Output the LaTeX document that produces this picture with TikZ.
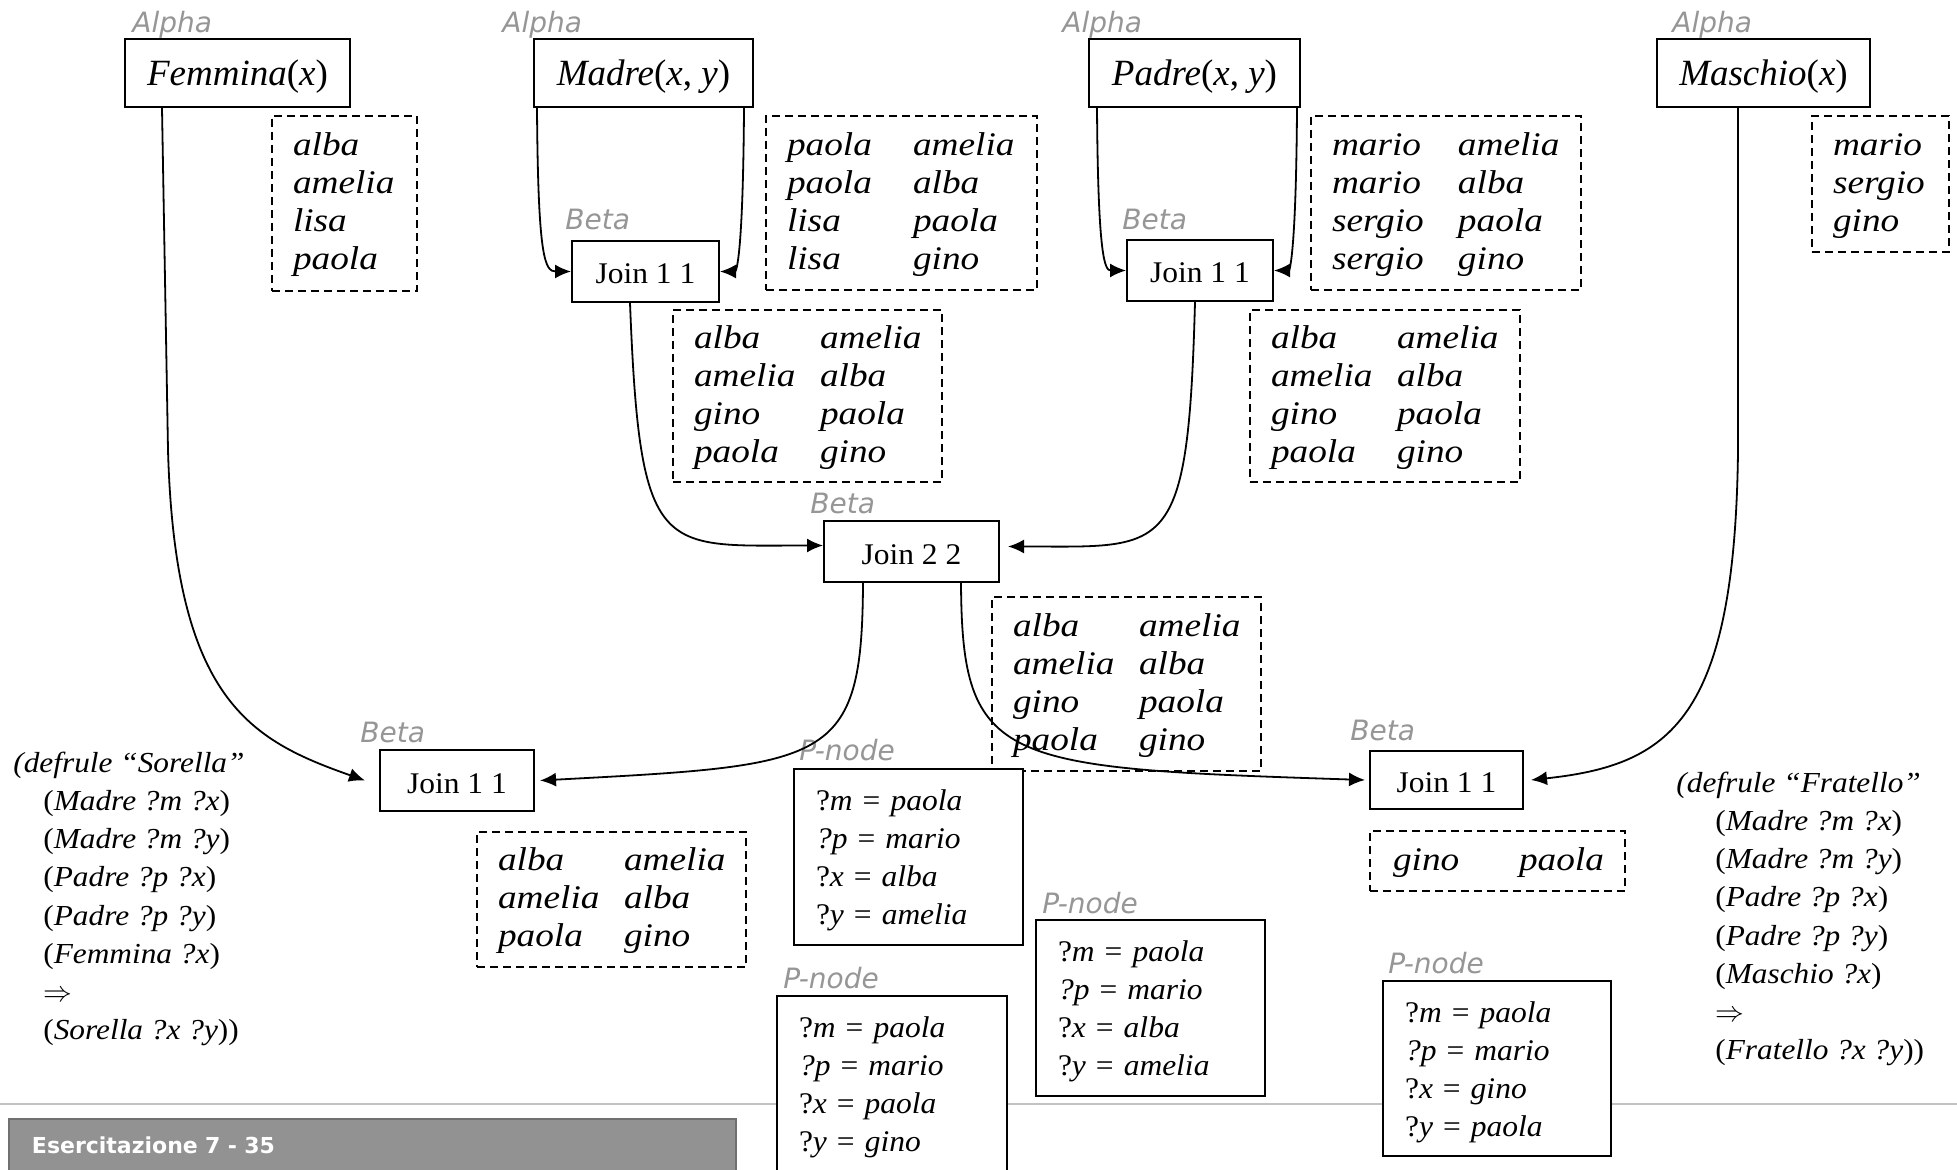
\documentclass[tikz,border=0pt]{standalone}
\usepackage{fontspec}
\setmainfont{Liberation Serif}
\newfontfamily\dfont[FakeStretch=1.13]{Liberation Serif}
\newfontfamily\pfont[FakeStretch=1.05]{Liberation Serif}
\newfontfamily\rfont[FakeStretch=1.08]{Liberation Serif}
\newfontfamily\jfont[FakeStretch=1.05]{Liberation Serif}
\newfontfamily\lfont{DejaVu Sans}
\usetikzlibrary{arrows.meta}
\definecolor{lblgray}{RGB}{150,150,150}
\definecolor{footfill}{RGB}{146,146,146}
\definecolor{footborder}{RGB}{112,112,112}
\definecolor{footline}{RGB}{195,195,195}
\newcommand{\rw}[2]{\strut\makebox[63pt][l]{#1}#2}
\newcommand{\rwf}[2]{\rule{0pt}{15pt}\rw{#1}{#2}}
\newcommand{\dfirst}{\rule{0pt}{15pt}\strut}
\newcommand{\pv}[2]{\strut?\textit{#1} = \textit{#2}}
\newcommand{\pfirst}{\rule{0pt}{16.3pt}}
\tikzset{
  alphabox/.style={draw, line width=1pt, fill=white, inner sep=0pt, minimum height=34pt,
    text height=17pt, text depth=4pt, font=\fontsize{18.5}{20}\selectfont},
  joinbox/.style={draw, line width=1pt, fill=white, inner sep=0pt, minimum height=30.5pt,
    text height=12.5pt, text depth=0pt, font=\jfont\fontsize{15}{18}\selectfont},
  dbox/.style={draw, dash pattern=on 4pt off 2.5pt, line width=0.8pt, inner xsep=10.5pt, inner ysep=0pt,
    align=left, font=\dfont\itshape\fontsize{16.5}{19}\selectfont},
  pbox/.style={draw, line width=1pt, fill=white, inner xsep=11pt, inner ysep=0pt, align=left,
    minimum height=88pt, font=\pfont\fontsize{15}{19}\selectfont},
  lbl/.style={text=lblgray, font=\lfont\itshape\fontsize{14}{15}\selectfont, inner sep=0pt, anchor=base west},
  rule/.style={inner sep=0pt, anchor=west, align=left, font=\rfont\fontsize{14.5}{19.1}\selectfont},
  conn/.style={line width=0.9pt, -{Latex[length=8pt,width=7pt]}},
  footbox/.style={draw=footborder, fill=footfill, line width=1pt, inner xsep=11.5pt, inner ysep=0pt,
    align=left, text=white, font=\lfont\bfseries\fontsize{11}{13}\selectfont}
}
\begin{document}
\begin{tikzpicture}[x=0.5pt,y=-0.5pt]
\useasboundingbox (0,0) rectangle (1957,1170);
\clip (0,0) rectangle (1957,1170);

% footer line
\draw[footline, line width=1pt] (0,1104) -- (1957,1104);

% Alpha nodes
\node[alphabox, minimum width=112.5pt] (fem) at (237.5,73) {\textit{Femmina}(\textit{x})};
\node[alphabox, minimum width=109.5pt] (madre) at (643.5,73) {\textit{Madre}(\textit{x}, \textit{y})};
\node[alphabox, minimum width=105.5pt] (padre) at (1194.5,73) {\textit{Padre}(\textit{x}, \textit{y})};
\node[alphabox, minimum width=106.5pt] (masc) at (1763.5,73) {\textit{Maschio}(\textit{x})};
\node[lbl] (lfem) at (132,33) {Alpha};
\node[lbl] (lmad) at (502,33) {Alpha};
\node[lbl] (lpad) at (1062,33) {Alpha};
\node[lbl] (lmas) at (1672,33) {Alpha};

% Alpha memories
\node[dbox, text width=51.5pt, minimum height=87.5pt] (dfem) at (344.5,203.5)
  {\dfirst alba\\\strut amelia\\\strut lisa\\\strut paola};
\node[dbox, text width=114.5pt, minimum height=87pt] (dmad) at (901.5,203)
  {\rwf{paola}{amelia}\\\rw{paola}{alba}\\\rw{lisa}{paola}\\\rw{lisa}{gino}};
\node[dbox, text width=114pt, minimum height=87pt] (dpad) at (1446,203)
  {\rwf{mario}{amelia}\\\rw{mario}{alba}\\\rw{sergio}{paola}\\\rw{sergio}{gino}};
\node[dbox, text width=47.5pt, minimum height=68pt] (dmas) at (1880.5,184)
  {\dfirst mario\\\strut sergio\\\strut gino};

% first joins
\node[joinbox, minimum width=73.5pt] (jm) at (645.5,271.5) {Join 1 1};
\node[joinbox, minimum width=73pt] (jp) at (1200,270.5) {Join 1 1};
\node[lbl] (bjm) at (565,230) {Beta};
\node[lbl] (bjp) at (1122,230) {Beta};

\node[dbox, text width=113.5pt, minimum height=86pt] (djm) at (807.5,396)
  {\rwf{alba}{amelia}\\\rw{amelia}{alba}\\\rw{gino}{paola}\\\rw{paola}{gino}};
\node[dbox, text width=114pt, minimum height=86pt] (djp) at (1385,396)
  {\rwf{alba}{amelia}\\\rw{amelia}{alba}\\\rw{gino}{paola}\\\rw{paola}{gino}};

% join 2 2
\node[joinbox, minimum width=87.5pt] (j22) at (911.5,551.5) {Join 2 2};
\node[lbl] (bj22) at (810,513) {Beta};
\node[dbox, text width=113.5pt, minimum height=87pt] (dj22) at (1126.5,684)
  {\rwf{alba}{amelia}\\\rw{amelia}{alba}\\\rw{gino}{paola}\\\rw{paola}{gino}};

% final joins
\node[joinbox, minimum width=77pt] (jsor) at (457,780.5) {Join 1 1};
\node[joinbox, minimum width=76.5pt, minimum height=29pt] (jfra) at (1446.5,780) {Join 1 1};
\node[lbl] (bjs) at (360,742) {Beta};
\node[lbl] (bjf) at (1350,740) {Beta};
\node[dbox, text width=113.5pt, minimum height=67.5pt] (dsor) at (611.5,899.5)
  {\rwf{alba}{amelia}\\\rw{amelia}{alba}\\\rw{paola}{gino}};
\node[dbox, inner xsep=11.5pt, text width=104.5pt, minimum height=30pt] (dfra) at (1497.5,861)
  {\rwf{gino}{paola}};

% P-nodes
\node[pbox, text width=92.5pt] (p1) at (908.5,857)
  {\pfirst\pv{m}{paola}\\\strut\textit{?p} = \textit{mario}\\\pv{x}{alba}\\\pv{y}{amelia}};
\node[pbox, text width=93pt] (p2) at (892,1084)
  {\pfirst\pv{m}{paola}\\\strut\textit{?p} = \textit{mario}\\\pv{x}{paola}\\\pv{y}{gino}};
\node[pbox, text width=92.5pt] (p3) at (1150.5,1008)
  {\pfirst\pv{m}{paola}\\\strut\textit{?p} = \textit{mario}\\\pv{x}{alba}\\\pv{y}{amelia}};
\node[pbox, text width=92pt, minimum height=87.5pt] (p4) at (1497,1068.5)
  {\pfirst\pv{m}{paola}\\\strut\textit{?p} = \textit{mario}\\\pv{x}{gino}\\\pv{y}{paola}};
\node[lbl] (lp1) at (799,760) {P-node};
\node[lbl] (lp2) at (783,988) {P-node};
\node[lbl] (lp3) at (1042,913) {P-node};
\node[lbl] (lp4) at (1388,973) {P-node};

% rules
\node[rule] (rsor) at (13,899) {\textit{(defrule “Sorella”}\\
  \hspace*{15pt}(\textit{Madre ?m ?x})\\
  \hspace*{15pt}(\textit{Madre ?m ?y})\\
  \hspace*{15pt}(\textit{Padre ?p ?x})\\
  \hspace*{15pt}(\textit{Padre ?p ?y})\\
  \hspace*{15pt}(\textit{Femmina ?x})\\
  \hspace*{15pt}$\Rightarrow$\\
  \hspace*{15pt}(\textit{Sorella ?x ?y}))};
\node[rule] (rfra) at (1676,919) {\textit{(defrule “Fratello”}\\
  \hspace*{19.5pt}(\textit{Madre ?m ?x})\\
  \hspace*{19.5pt}(\textit{Madre ?m ?y})\\
  \hspace*{19.5pt}(\textit{Padre ?p ?x})\\
  \hspace*{19.5pt}(\textit{Padre ?p ?y})\\
  \hspace*{19.5pt}(\textit{Maschio ?x})\\
  \hspace*{19.5pt}$\Rightarrow$\\
  \hspace*{19.5pt}(\textit{Fratello ?x ?y}))};

% footer
\node[footbox, anchor=north west, text width=340.5pt, minimum height=26pt] (foot) at (8,1118) {Esercitazione 7 - 35};
\fill[footfill] ([xshift=0.5pt]foot.south west) rectangle ([xshift=-0.5pt,yshift=-10pt]foot.south east);

% connector start points
\coordinate (fem-o) at ([xshift=-37.75pt]fem.south);
\coordinate (masc-o) at ([xshift=-12.75pt]masc.south);
\coordinate (mad-l) at ([xshift=-53.25pt]madre.south);
\coordinate (mad-r) at ([xshift=50.25pt]madre.south);
\coordinate (pad-l) at ([xshift=-48.75pt]padre.south);
\coordinate (pad-r) at ([xshift=51.25pt]padre.south);
\coordinate (jm-o) at ([xshift=-7.75pt]jm.south);
\coordinate (jp-o) at ([xshift=-2.5pt]jp.south);
\coordinate (j22-l) at ([xshift=-24.25pt]j22.south);
\coordinate (j22-r) at ([xshift=24.75pt]j22.south);

% connectors
\draw[conn] (fem-o) -- (168,450) .. controls (175,700) and (250,740) .. ([xshift=-7pt]jsor.west);
\draw[conn] (masc-o) -- (1738,450) .. controls (1735,720) and (1670,765) .. ([xshift=3.5pt]jfra.east);
\draw[conn] (mad-l) .. controls (538,260) and (545,271.5) .. (jm.west);
\draw[conn] (mad-r) .. controls (743,260) and (736,271.5) .. (jm.east);
\draw[conn] (pad-l) .. controls (1098,260) and (1105,270.5) .. (jp.west);
\draw[conn] (pad-r) .. controls (1296,260) and (1289,270.5) .. (jp.east);
\draw[conn] (jm-o) .. controls (640,560) and (660,545.5) .. ([yshift=3pt]j22.west);
\draw[conn] (jp-o) .. controls (1188,560) and (1168,546.5) .. ([xshift=4pt,yshift=2.5pt]j22.east);
\draw[conn] (j22-l) .. controls (862,765) and (830,765) .. ([xshift=2.5pt]jsor.east);
\draw[conn] (j22-r) .. controls (962,765) and (1000,768) .. ([xshift=-2pt]jfra.west);
\end{tikzpicture}
\end{document}
